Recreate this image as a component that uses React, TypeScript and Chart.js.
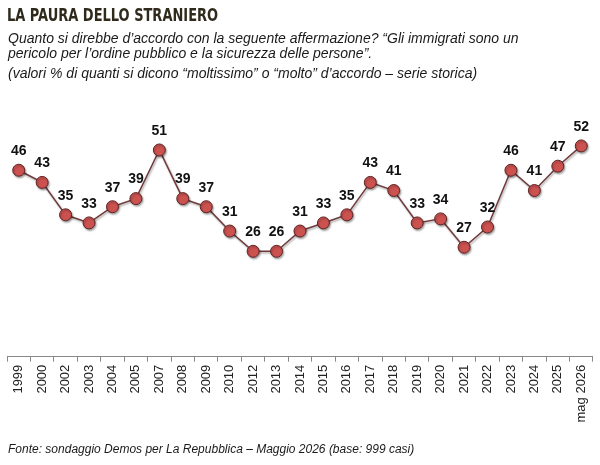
import { useEffect, useRef } from "react";
import { Chart, registerables } from "chart.js";

Chart.register(...registerables);

const years = [
  "1999", "2000", "2002", "2003", "2004", "2005", "2007", "2008", "2009", "2010",
  "2012", "2013", "2014", "2015", "2016", "2017", "2018", "2019", "2020", "2021",
  "2022", "2023", "2024", "2025", "mag 2026",
];
const values = [
  46, 43, 35, 33, 37, 39, 51, 39, 37, 31,
  26, 26, 31, 33, 35, 43, 41, 33, 34, 27,
  32, 46, 41, 47, 52,
];

const title = "LA PAURA DELLO STRANIERO";
const subtitle1 = "Quanto si direbbe d\u2019accordo con la seguente affermazione? \u201cGli immigrati sono un";
const subtitle2 = "pericolo per l\u2019ordine pubblico e la sicurezza delle persone\u201d.";
const subtitle3 = "(valori % di quanti si dicono \u201cmoltissimo\u201d o \u201cmolto\u201d d\u2019accordo \u2013 serie storica)";
const footer = "Fonte: sondaggio Demos per La Repubblica \u2013 Maggio 2026 (base: 999 casi)";

const SANS = "'Liberation Sans', Arial, sans-serif";

export default function App() {
  const ref = useRef<HTMLCanvasElement>(null);

  useEffect(() => {
    document.body.style.margin = "0";
    const shadowAndLabels = {
      id: "shadowAndLabels",
      beforeDatasetsDraw(chart: any) {
        const ctx = chart.ctx;
        ctx.save();
        ctx.shadowColor = "rgba(0,0,0,0.35)";
        ctx.shadowBlur = 2;
        ctx.shadowOffsetX = 1;
        ctx.shadowOffsetY = 1.5;
      },
      afterDatasetsDraw(chart: any) {
        const ctx = chart.ctx;
        ctx.restore();
        const meta = chart.getDatasetMeta(0);
        ctx.save();
        ctx.font = `bold 14px ${SANS}`;
        ctx.fillStyle = "#111";
        ctx.textAlign = "center";
        ctx.textBaseline = "middle";
        meta.data.forEach((pt: any, i: number) => {
          ctx.fillText(String(values[i]), pt.x, pt.y - 19);
        });
        ctx.restore();
      },
    };

    const chart = new Chart(ref.current!, {
      type: "line",
      data: {
        labels: years,
        datasets: [
          {
            data: values,
            borderColor: "#70393a",
            borderWidth: 1.5,
            backgroundColor: "#cc5250",
            pointBackgroundColor: "#cc5250",
            pointBorderColor: "#5e2424",
            pointBorderWidth: 1,
            pointRadius: 6,
            tension: 0,
            clip: false as any,
          },
        ],
      },
      options: {
        animation: false,
        responsive: true,
        maintainAspectRatio: false,
        layout: { padding: { top: 113.5, left: 5.3, right: 4.7, bottom: 39.5 } },
        plugins: {
          legend: { display: false },
          tooltip: { enabled: false },
        },
        scales: {
          y: { display: false, min: 0, max: 60 },
          x: {
            offset: true,
            grid: {
              display: true,
              drawOnChartArea: false,
              drawTicks: true,
              tickLength: 5,
              offset: true,
              color: "#888",
            },
            border: { display: true, color: "#888", width: 1 },
            ticks: {
              autoSkip: false,
              minRotation: 90,
              maxRotation: 90,
              padding: 3,
              color: "#222",
              font: { family: SANS, size: 13 },
            },
          },
        },
      },
      plugins: [shadowAndLabels],
    });
    return () => chart.destroy();
  }, []);

  return (
    <div style={{ position: "relative", width: 600, height: 465, background: "#fff", fontFamily: SANS }}>
      <div style={{ position: "absolute", left: 0, top: 0, width: 600, height: 465 }}>
        <canvas ref={ref} />
      </div>
      <div
        style={{
          position: "absolute", left: 7, top: 5, fontFamily: "'Liberation Sans Narrow', 'DejaVu Sans Condensed', sans-serif",
          fontWeight: "bold", fontSize: 17, lineHeight: "20px", color: "#2f2a1c", whiteSpace: "nowrap",
          transform: "scaleX(0.85)", transformOrigin: "left top",
        }}
      >
        {title}
      </div>
      <div style={{ position: "absolute", left: 8, top: 30.5, fontStyle: "italic", fontSize: 14, lineHeight: "15px", color: "#1a1a1a", whiteSpace: "nowrap" }}>
        {subtitle1}
        <br />
        {subtitle2}
      </div>
      <div style={{ position: "absolute", left: 8, top: 66, fontStyle: "italic", fontSize: 14, lineHeight: "15px", color: "#1a1a1a", whiteSpace: "nowrap" }}>
        {subtitle3}
      </div>
      <div style={{ position: "absolute", left: 8, top: 442, fontStyle: "italic", fontSize: 12, lineHeight: "15px", color: "#1a1a1a", whiteSpace: "nowrap" }}>
        {footer}
      </div>
    </div>
  );
}
